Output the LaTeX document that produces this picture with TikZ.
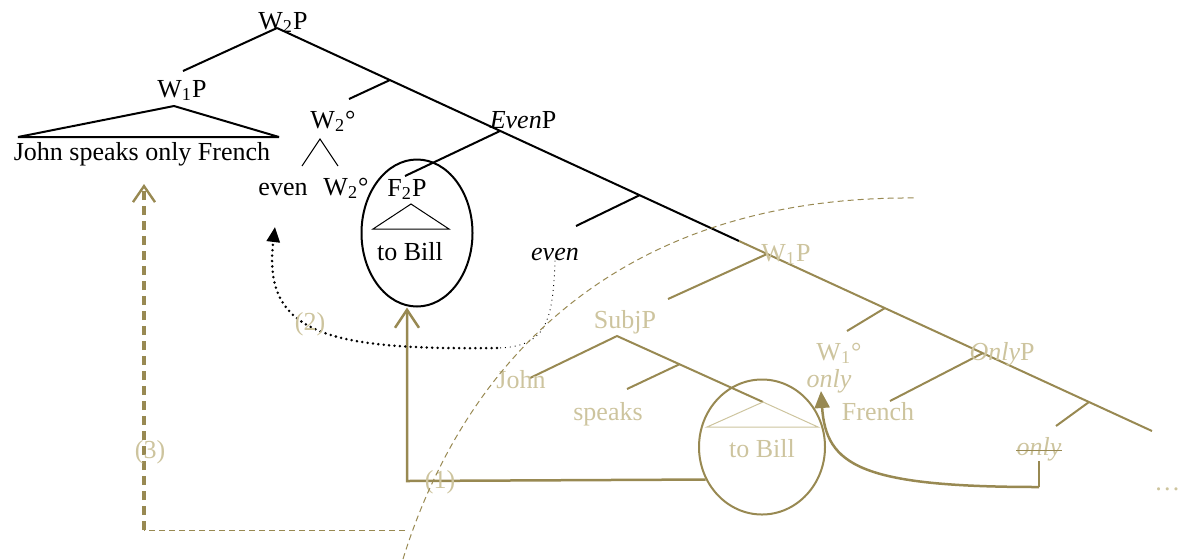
\documentclass[tikz,border=0pt]{standalone}
\usepackage{xcolor}
\usepackage{fontspec}
\setmainfont{Liberation Serif}
\usepackage{tikz}
\usetikzlibrary{arrows.meta, shapes.geometric}
\definecolor{olivecol}{RGB}{152,137,82}
\definecolor{palecol}{RGB}{205,196,158}
\tikzset{
  treeline/.style={line width=1pt, draw=black},
  oldline/.style={line width=1pt, draw=olivecol},
  rooftri/.style={line width=0.5pt, draw=black},
  oldroof/.style={line width=0.5pt, draw=palecol},
  lbl/.style={inner sep=0pt, anchor=base, font=\fontsize{13}{15}\selectfont},
  oldlbl/.style={lbl, text=palecol},
  ringnode/.style={ellipse, draw=#1, line width=1pt, inner sep=0pt},
  ringnode/.default=black,
  movearrow/.style={line width=1.25pt, draw=olivecol,
                    -{Straight Barb[length=9pt, width=12pt, line width=1.25pt]}},
  movecurve/.style={line width=1.25pt, draw=olivecol,
                    -{Triangle[length=8.5pt, width=7.5pt]}},
  dotmove/.style={line width=1.4pt, line cap=round, dash pattern=on 0pt off 2.7pt,
                  -{Triangle[length=7.5pt, width=6.5pt]}},
  dotthin/.style={line width=0.45pt, dotted},
  copydash/.style={line width=1.6pt, draw=olivecol, dash pattern=on 4.5pt off 3pt,
                   -{Straight Barb[length=8pt, width=11pt, line width=1.2pt]}},
  thindash/.style={line width=0.5pt, draw=olivecol, dash pattern=on 3pt off 2pt},
}

\begin{document}
\begin{tikzpicture}[x=0.5pt, y=-0.5pt]
  \useasboundingbox (0,0) rectangle (1178,559);

  % Spine
  \coordinate (root) at (277,28);
  \coordinate (split) at (739,241);
  \coordinate (rend) at (1152,431);
  \draw[treeline] (root) -- (split);
  \draw[oldline] (split) -- (rend);

  % Upper tree (black)
  \coordinate (w1top) at (183,71);
  \coordinate (br1) at (390,80);   \coordinate (br1e) at (349,99);
  \coordinate (evtop) at (500,131); \coordinate (evte) at (405,176);
  \coordinate (br2) at (640,195);  \coordinate (br2e) at (576,226);
  \draw[treeline] (root) -- (w1top);
  \draw[treeline] (br1) -- (br1e);
  \draw[treeline] (evtop) -- (evte);
  \draw[treeline] (br2) -- (br2e);

  \node[lbl] (w2p) at (283,29) {W\textsubscript{2}P};
  \node[lbl] (w1p) at (182,97) {W\textsubscript{1}P};
  \node[lbl] (w2h) at (333,128) {W\textsubscript{2}°};
  \node[lbl] (jspf) at (142,160) {John speaks only French};
  \node[lbl] (evenh) at (283,195) {even};
  \node[lbl] (w2low) at (346,195) {W\textsubscript{2}°};
  \node[lbl] (f2p) at (407,196) {F\textsubscript{2}P};
  \node[lbl] (tobill) at (410,260) {to Bill};
  \node[lbl] (evenp) at (523,128) {\textit{Even}P};
  \node[lbl] (evenlow) at (555,260) {\textit{even}};

  % Roofs
  \coordinate (t1a) at (174,106); \coordinate (t1l) at (18,137); \coordinate (t1r) at (279,137);
  \draw[treeline, line join=bevel] (t1l) -- (t1a) -- (t1r) -- cycle;
  \coordinate (va) at (320,139); \coordinate (vl) at (302,166); \coordinate (vr) at (338,166);
  \draw[rooftri] (vl) -- (va) -- (vr);
  \coordinate (t2a) at (411,204); \coordinate (t2l) at (373,229); \coordinate (t2r) at (449,229);
  \draw[rooftri] (t2l) -- (t2a) -- (t2r) -- cycle;

  \node[ringnode, minimum width=55.5pt, minimum height=73.5pt] (fring) at (417,233) {};

  % Lower tree (olive)
  \coordinate (w1old) at (767,254); \coordinate (subjtop) at (668,299);
  \coordinate (br3) at (885,308);   \coordinate (br3e) at (847,331);
  \coordinate (onlytop) at (983,353); \coordinate (onlye) at (890,401);
  \coordinate (br4) at (1089,402);  \coordinate (br4e) at (1056,426);
  \draw[oldline] (w1old) -- (subjtop);
  \draw[oldline] (br3) -- (br3e);
  \draw[oldline] (onlytop) -- (onlye);
  \draw[oldline] (br4) -- (br4e);

  \coordinate (subj) at (617,336); \coordinate (johnend) at (530,378);
  \coordinate (t3a) at (763,402); \coordinate (t3l) at (707,427); \coordinate (t3r) at (818,427);
  \coordinate (br5) at (680,364); \coordinate (br5e) at (627,389);
  \draw[oldline] (johnend) -- (subj) -- (t3a);
  \draw[oldline] (br5) -- (br5e);
  \draw[oldroof] (t3l) -- (t3a) -- (t3r) -- cycle;

  \node[oldlbl] (w1pold) at (786,261) {W\textsubscript{1}P};
  \node[oldlbl] (subjp) at (625,328) {SubjP};
  \node[oldlbl] (johnold) at (521,388) {John};
  \node[oldlbl] (speaks) at (608,420) {speaks};
  \node[oldlbl] (w1hold) at (839,360) {W\textsubscript{1}°};
  \node[oldlbl] (onlyup) at (829,387) {\textit{only}};
  \node[oldlbl] (onlyp) at (1002,360) {\textit{Only}P};
  \node[oldlbl] (french) at (878,420) {French};
  \node[oldlbl] (sonly) at (1039,455) {\textit{only}};
  \draw[olivecol, line width=0.7pt] (sonly.mid west) -- (sonly.mid east);
  \node[oldlbl] (tobillold) at (762,457) {to Bill};
  \node[oldlbl, anchor=base west] (dots) at (1154,490) {\dots};

  \node[ringnode=olivecol, minimum width=63pt, minimum height=67.5pt] (oring) at (762,447) {};

  % Movement (1)
  \coordinate (m1) at (407,481);
  \draw[movearrow] (oring.210) -- (m1) -- (m1 |- fring.south);
  \node[oldlbl] (lab1) at (440,488) {(1)};

  % Movement (2)
  \coordinate (m2) at (497,348);
  \coordinate (m2tip) at (275,227);
  \draw[dotthin] (evenlow.south) .. controls (553,322) and (546,347) .. (m2);
  \draw[dotmove] (m2) .. controls (330,350) and (262,335) .. (m2tip);
  \node[oldlbl] (lab2) at (310,330) {(2)};

  % Movement (3)
  \coordinate (m3end) at (405,530);
  \coordinate (m3) at (144,530);
  \coordinate (m3tip) at (144,184);
  \draw[thindash] (m3end) -- (m3);
  \draw[copydash] (m3) -- (m3tip);
  \node[oldlbl] (lab3) at (150,458) {(3)};

  % Movement of only
  \coordinate (m4) at (1039,487);
  \coordinate (m4tip) at (821,391);
  \draw[line width=1.25pt, olivecol] (sonly.south) -- (m4);
  \draw[movecurve] (m4) .. controls (860,487) and (826,465) .. (m4tip);

  % Boundary
  \coordinate (arcA) at (403,559);
  \coordinate (arcB) at (917,198);
  \draw[thindash] (arcA) .. controls (465,360) and (620,195) .. (arcB);
\end{tikzpicture}
\end{document}
